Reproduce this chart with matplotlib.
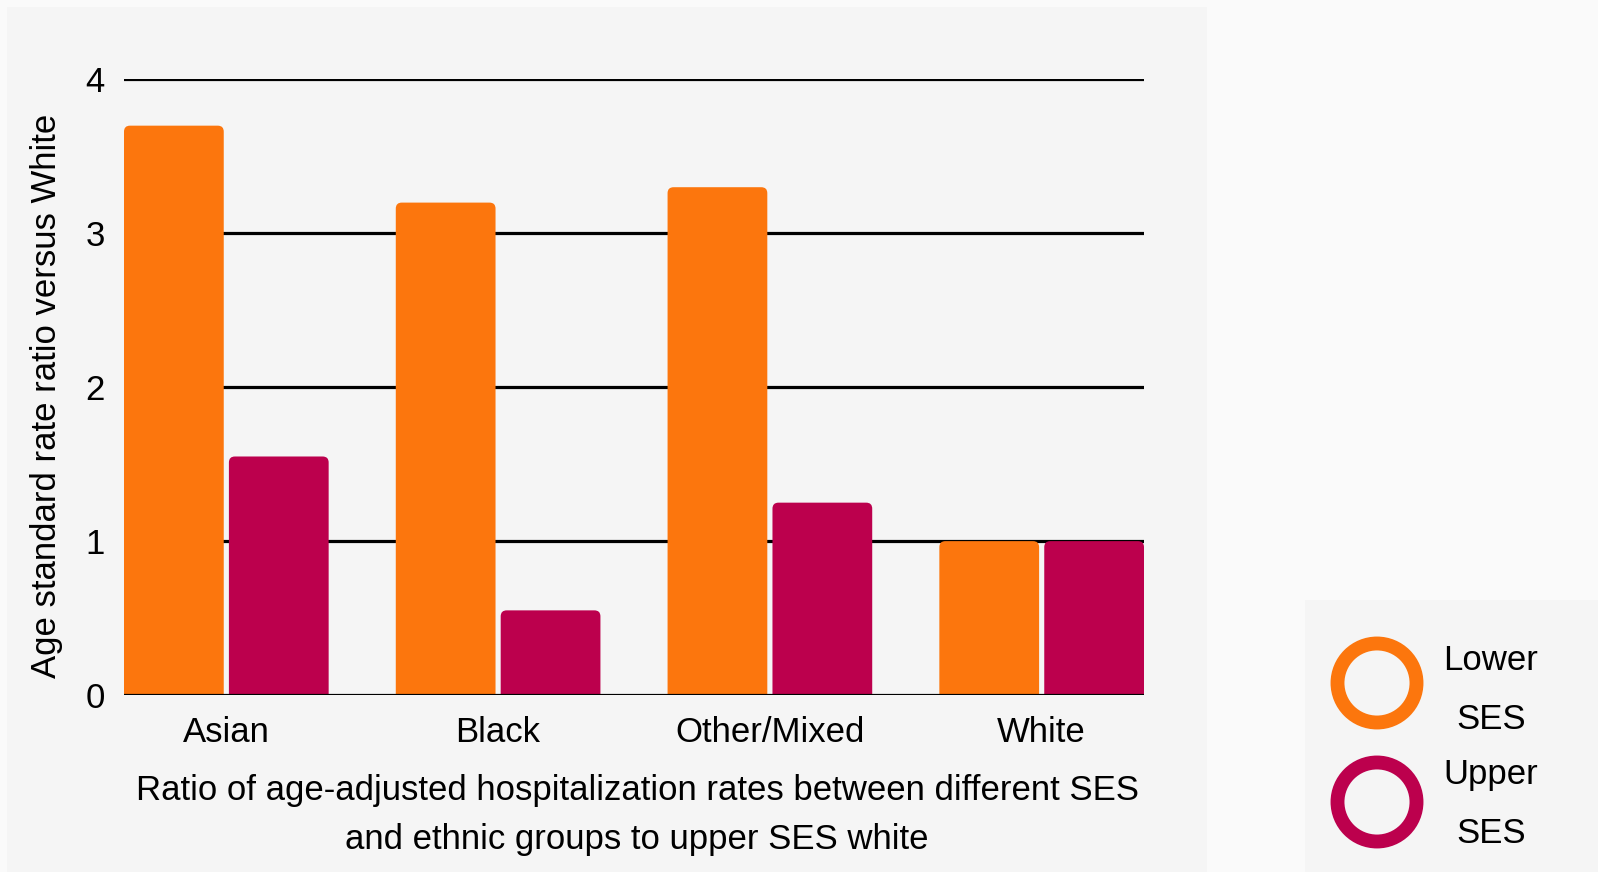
import matplotlib.pyplot as plt
from matplotlib.patches import FancyBboxPatch, Rectangle, Circle

plt.rcParams['font.family'] = ['Liberation Sans', 'DejaVu Sans']

# Age standard rate ratio versus upper SES White
groups = ["Asian", "Black", "Other/Mixed", "White"]
lower_ses = [3.7, 3.2, 3.3, 1.0]
upper_ses = [1.55, 0.55, 1.25, 1.0]
series_names = ["Lower\nSES", "Upper\nSES"]
y_ticks = [0, 1, 2, 3, 4]

ORANGE = "#fc760d"
MAGENTA = "#bc004d"
PANEL = "#f5f5f5"
OUTER = "#fafafa"
FS = 25

W, H = 1598, 872
fig = plt.figure(figsize=(W / 100, H / 100), dpi=100, facecolor=OUTER)

# background layer in pixel units: chart panel + legend panel
bg = fig.add_axes([0, 0, 1, 1], zorder=-10)
bg.set_xlim(0, W)
bg.set_ylim(H, 0)
bg.axis("off")
bg.add_patch(Rectangle((7, 7), 1200, 870, facecolor=PANEL, edgecolor="none"))
bg.add_patch(Rectangle((1305, 600), 300, 280, facecolor=PANEL, edgecolor="none"))

ax = fig.add_axes([124 / W, 1 - 695 / H, 1020 / W, 615.5 / H])
ax.set_facecolor("none")
for s in ax.spines.values():
    s.set_visible(False)

bar_w = 0.367
offset = 0.193
ax.set_xlim(-offset - bar_w / 2, len(groups) - 1 + offset + bar_w / 2)
ax.set_ylim(0, 4)

for t in y_ticks:
    ax.axhline(t, color="black", lw=2.3, zorder=3 if t == 0 else 0)

# rounded-top bars; bottoms start below 0 so the lower corners get clipped
aspect = (1 / 154) / (1 / 272)
for i, g in enumerate(groups):
    for val, dx, col in [(lower_ses[i], -offset, ORANGE), (upper_ses[i], offset, MAGENTA)]:
        p = FancyBboxPatch((i + dx - bar_w / 2, -0.1), bar_w, val + 0.1,
                           boxstyle="round,pad=0,rounding_size=0.022",
                           mutation_aspect=aspect, facecolor=col,
                           edgecolor="none", zorder=2)
        ax.add_patch(p)

ax.set_yticks(y_ticks)
ax.set_yticklabels([str(t) for t in y_ticks], fontsize=FS)
ax.set_xticks(range(len(groups)))
ax.set_xticklabels(groups, fontsize=FS)
ax.tick_params(length=0)
ax.tick_params(axis="y", pad=14)
ax.tick_params(axis="x", pad=15)

fig.text(47 / W, 1 - 396 / H, "Age standard rate ratio versus White",
         rotation=90, ha="center", va="center", fontsize=FS)
fig.text(637 / W, 1 - 815 / H,
         "Ratio of age-adjusted hospitalization rates between different SES\nand ethnic groups to upper SES white",
         ha="center", va="center", fontsize=FS, linespacing=1.58)

# legend: hollow rings with two-line labels
for (cy, ty, col, name) in [(683, 690, ORANGE, series_names[0]),
                            (802, 804, MAGENTA, series_names[1])]:
    bg.add_patch(Circle((1377, cy), 39.5, facecolor="none", edgecolor=col, lw=10))
    bg.text(1491, ty, name, ha="center", va="center", fontsize=FS, linespacing=2.0)

fig.savefig("out.png", dpi=100, facecolor=OUTER)
